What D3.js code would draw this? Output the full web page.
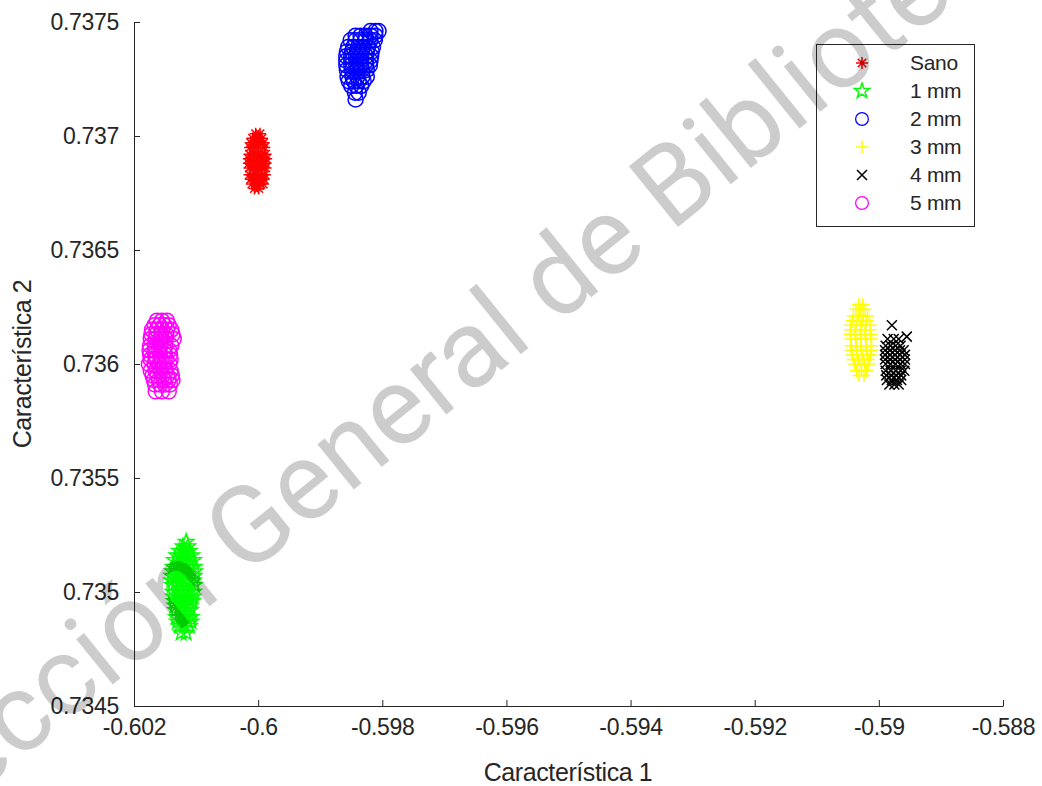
<!DOCTYPE html>
<html><head><meta charset="utf-8">
<script src="https://cdn.jsdelivr.net/npm/d3@7/dist/d3.min.js"></script>
<style>body{margin:0;background:#fff}</style>
</head><body><svg id="c" width="1042" height="786"></svg>
<script>
// ---------- data ----------
const seriesNames = ["Sano", "1 mm", "2 mm", "3 mm", "4 mm", "5 mm"];

const sano = [
[-0.60004,0.73701],[-0.59997,0.73701],
[-0.60009,0.73699],[-0.60002,0.73699],[-0.59994,0.73699],
[-0.60012,0.73697],[-0.60005,0.73697],[-0.59998,0.73697],[-0.59991,0.73697],
[-0.60013,0.73695],[-0.60006,0.73695],[-0.59999,0.73695],[-0.59990,0.73695],
[-0.60014,0.73692],[-0.60007,0.73692],[-0.60000,0.73692],[-0.59993,0.73692],[-0.59988,0.73692],
[-0.60015,0.73690],[-0.60008,0.73690],[-0.60001,0.73690],[-0.59994,0.73690],[-0.59987,0.73690],
[-0.60015,0.73688],[-0.60008,0.73688],[-0.60001,0.73688],[-0.59994,0.73688],[-0.59988,0.73688],
[-0.60014,0.73686],[-0.60007,0.73686],[-0.60000,0.73686],[-0.59993,0.73686],[-0.59988,0.73686],
[-0.60014,0.73683],[-0.60007,0.73683],[-0.60000,0.73683],[-0.59993,0.73683],[-0.59989,0.73683],
[-0.60012,0.73681],[-0.60005,0.73681],[-0.59998,0.73681],[-0.59991,0.73681],
[-0.60010,0.73679],[-0.60003,0.73679],[-0.59996,0.73679],[-0.59992,0.73679],
[-0.60006,0.73677],[-0.59999,0.73677]];

const mm1 = [
[-0.60116,0.73522],
[-0.60121,0.73520],[-0.60113,0.73520],
[-0.60127,0.73518],[-0.60119,0.73518],[-0.60111,0.73518],
[-0.60131,0.73516],[-0.60123,0.73516],[-0.60115,0.73516],[-0.60107,0.73516],
[-0.60135,0.73514],[-0.60127,0.73514],[-0.60119,0.73514],[-0.60111,0.73514],[-0.60104,0.73514],
[-0.60137,0.73511],[-0.60129,0.73511],[-0.60121,0.73511],[-0.60113,0.73511],[-0.60103,0.73511],
[-0.60138,0.73509],[-0.60130,0.73509],[-0.60122,0.73509],[-0.60114,0.73509],[-0.60102,0.73509],
[-0.60139,0.73507],[-0.60131,0.73507],[-0.60123,0.73507],[-0.60115,0.73507],[-0.60103,0.73507],
[-0.60139,0.73505],[-0.60131,0.73505],[-0.60123,0.73505],[-0.60115,0.73505],[-0.60104,0.73505],
[-0.60138,0.73503],[-0.60130,0.73503],[-0.60122,0.73503],[-0.60114,0.73503],[-0.60103,0.73503],
[-0.60137,0.73500],[-0.60129,0.73500],[-0.60121,0.73500],[-0.60113,0.73500],[-0.60104,0.73500],
[-0.60136,0.73498],[-0.60128,0.73498],[-0.60120,0.73498],[-0.60112,0.73498],[-0.60105,0.73498],
[-0.60135,0.73496],[-0.60127,0.73496],[-0.60119,0.73496],[-0.60111,0.73496],[-0.60106,0.73496],
[-0.60134,0.73494],[-0.60126,0.73494],[-0.60118,0.73494],[-0.60110,0.73494],
[-0.60133,0.73492],[-0.60125,0.73492],[-0.60117,0.73492],[-0.60109,0.73492],
[-0.60132,0.73489],[-0.60124,0.73489],[-0.60116,0.73489],[-0.60108,0.73489],
[-0.60130,0.73487],[-0.60122,0.73487],[-0.60114,0.73487],[-0.60108,0.73487],
[-0.60127,0.73485],[-0.60119,0.73485],[-0.60111,0.73485],
[-0.60124,0.73482],[-0.60116,0.73482]];

const mm2 = [
[-0.59819,0.73746],[-0.59811,0.73746],[-0.59806,0.73746],
[-0.59843,0.73744],[-0.59835,0.73744],[-0.59827,0.73744],[-0.59819,0.73744],[-0.59811,0.73744],
[-0.59851,0.73742],[-0.59843,0.73742],[-0.59835,0.73742],[-0.59827,0.73742],[-0.59819,0.73742],[-0.59812,0.73742],
[-0.59855,0.73739],[-0.59847,0.73739],[-0.59839,0.73739],[-0.59831,0.73739],[-0.59823,0.73739],[-0.59815,0.73739],
[-0.59857,0.73737],[-0.59849,0.73737],[-0.59841,0.73737],[-0.59833,0.73737],[-0.59825,0.73737],[-0.59817,0.73737],
[-0.59858,0.73735],[-0.59850,0.73735],[-0.59842,0.73735],[-0.59834,0.73735],[-0.59826,0.73735],[-0.59818,0.73735],
[-0.59858,0.73733],[-0.59850,0.73733],[-0.59842,0.73733],[-0.59834,0.73733],[-0.59826,0.73733],[-0.59819,0.73733],
[-0.59858,0.73731],[-0.59850,0.73731],[-0.59842,0.73731],[-0.59834,0.73731],[-0.59826,0.73731],[-0.59820,0.73731],
[-0.59857,0.73729],[-0.59849,0.73729],[-0.59841,0.73729],[-0.59833,0.73729],[-0.59825,0.73729],
[-0.59856,0.73726],[-0.59848,0.73726],[-0.59840,0.73726],[-0.59832,0.73726],[-0.59825,0.73726],
[-0.59854,0.73724],[-0.59846,0.73724],[-0.59838,0.73724],[-0.59830,0.73724],
[-0.59850,0.73722],[-0.59842,0.73722],[-0.59834,0.73722],
[-0.59844,0.73719],[-0.59838,0.73719],
[-0.59843,0.73716]];

const mm3 = [
[-0.59033,0.73626],[-0.59026,0.73626],
[-0.59037,0.73624],[-0.59029,0.73624],[-0.59022,0.73624],
[-0.59041,0.73621],[-0.59033,0.73621],[-0.59025,0.73621],[-0.59018,0.73621],
[-0.59043,0.73619],[-0.59035,0.73619],[-0.59027,0.73619],[-0.59019,0.73619],
[-0.59045,0.73617],[-0.59037,0.73617],[-0.59029,0.73617],[-0.59021,0.73617],[-0.59014,0.73617],
[-0.59046,0.73615],[-0.59038,0.73615],[-0.59030,0.73615],[-0.59022,0.73615],[-0.59014,0.73615],
[-0.59046,0.73613],[-0.59038,0.73613],[-0.59030,0.73613],[-0.59022,0.73613],[-0.59013,0.73613],
[-0.59045,0.73611],[-0.59037,0.73611],[-0.59029,0.73611],[-0.59021,0.73611],[-0.59012,0.73611],
[-0.59045,0.73608],[-0.59037,0.73608],[-0.59029,0.73608],[-0.59021,0.73608],[-0.59012,0.73608],
[-0.59044,0.73606],[-0.59036,0.73606],[-0.59028,0.73606],[-0.59020,0.73606],[-0.59012,0.73606],
[-0.59043,0.73604],[-0.59035,0.73604],[-0.59027,0.73604],[-0.59019,0.73604],[-0.59013,0.73604],
[-0.59041,0.73602],[-0.59033,0.73602],[-0.59025,0.73602],[-0.59017,0.73602],
[-0.59039,0.73600],[-0.59031,0.73600],[-0.59023,0.73600],[-0.59016,0.73600],
[-0.59036,0.73597],[-0.59028,0.73597],[-0.59020,0.73597],
[-0.59032,0.73595],[-0.59024,0.73595]];

const mm4 = [
[-0.58979,0.73617],[-0.58955,0.73612],
[-0.58986,0.73611],[-0.58976,0.73611],[-0.58968,0.73611],
[-0.58989,0.73608],[-0.58981,0.73608],[-0.58973,0.73608],[-0.58965,0.73608],
[-0.58990,0.73606],[-0.58982,0.73606],[-0.58974,0.73606],[-0.58966,0.73606],[-0.58960,0.73606],
[-0.58990,0.73604],[-0.58982,0.73604],[-0.58974,0.73604],[-0.58966,0.73604],[-0.58958,0.73604],
[-0.58990,0.73602],[-0.58982,0.73602],[-0.58974,0.73602],[-0.58966,0.73602],[-0.58958,0.73602],
[-0.58989,0.73600],[-0.58981,0.73600],[-0.58973,0.73600],[-0.58965,0.73600],[-0.58958,0.73600],
[-0.58989,0.73597],[-0.58981,0.73597],[-0.58973,0.73597],[-0.58965,0.73597],[-0.58959,0.73597],
[-0.58988,0.73595],[-0.58980,0.73595],[-0.58972,0.73595],[-0.58964,0.73595],
[-0.58987,0.73593],[-0.58979,0.73593],[-0.58971,0.73593],[-0.58964,0.73593],
[-0.58983,0.73591],[-0.58975,0.73591],[-0.58968,0.73591]];

const mm5 = [
[-0.60163,0.73619],[-0.60155,0.73619],[-0.60147,0.73619],
[-0.60167,0.73617],[-0.60159,0.73617],[-0.60151,0.73617],[-0.60144,0.73617],
[-0.60171,0.73615],[-0.60163,0.73615],[-0.60155,0.73615],[-0.60147,0.73615],[-0.60140,0.73615],
[-0.60172,0.73613],[-0.60164,0.73613],[-0.60156,0.73613],[-0.60148,0.73613],[-0.60138,0.73613],
[-0.60173,0.73611],[-0.60165,0.73611],[-0.60157,0.73611],[-0.60149,0.73611],[-0.60136,0.73611],
[-0.60174,0.73608],[-0.60166,0.73608],[-0.60158,0.73608],[-0.60150,0.73608],[-0.60140,0.73608],
[-0.60175,0.73606],[-0.60167,0.73606],[-0.60159,0.73606],[-0.60151,0.73606],[-0.60143,0.73606],
[-0.60174,0.73604],[-0.60166,0.73604],[-0.60158,0.73604],[-0.60150,0.73604],[-0.60142,0.73604],
[-0.60173,0.73602],[-0.60165,0.73602],[-0.60157,0.73602],[-0.60149,0.73602],[-0.60141,0.73602],
[-0.60176,0.73600],[-0.60167,0.73600],[-0.60159,0.73600],[-0.60151,0.73600],[-0.60143,0.73600],
[-0.60173,0.73597],[-0.60165,0.73597],[-0.60157,0.73597],[-0.60149,0.73597],[-0.60141,0.73597],
[-0.60170,0.73595],[-0.60162,0.73595],[-0.60154,0.73595],[-0.60146,0.73595],[-0.60139,0.73595],
[-0.60168,0.73593],[-0.60160,0.73593],[-0.60152,0.73593],[-0.60144,0.73593],[-0.60138,0.73593],
[-0.60166,0.73591],[-0.60158,0.73591],[-0.60150,0.73591],[-0.60142,0.73591],
[-0.60165,0.73588],[-0.60155,0.73588],[-0.60144,0.73588]];

const xTicks = [-0.602, -0.6, -0.598, -0.596, -0.594, -0.592, -0.59, -0.588];
const xTickLabels = ["-0.602", "-0.6", "-0.598", "-0.596", "-0.594", "-0.592", "-0.59", "-0.588"];
const yTicks = [0.7345, 0.735, 0.7355, 0.736, 0.7365, 0.737, 0.7375];
const yTickLabels = ["0.7345", "0.735", "0.7355", "0.736", "0.7365", "0.737", "0.7375"];
const xLabel = "Característica 1";
const yLabel = "Característica 2";
const watermark = "Dirección General de Bibliotecas";

// ---------- styles ----------
const seriesData = [sano, mm1, mm2, mm3, mm4, mm5];
const markerTypes = ["asterisk", "star", "circle", "plus", "x", "circle"];
const colors = ["#ff0000", "#00ff00", "#0000ff", "#ffff00", "#000000", "#ff00ff"];
const textColor = "#262626";
const font = "'Liberation Sans', Arial, sans-serif";

function starPath(R) {
  const r = R * 0.40;
  let p = [];
  for (let i = 0; i < 10; i++) {
    const a = -Math.PI / 2 + i * Math.PI / 5;
    const rr = i % 2 === 0 ? R : r;
    p.push((rr * Math.cos(a)).toFixed(2) + "," + (rr * Math.sin(a)).toFixed(2));
  }
  return "M" + p.join("L") + "Z";
}
function markerPath(type) {
  switch (type) {
    case "asterisk": return "M-6,0H6M0,-6V6M-4.3,-4.3L4.3,4.3M-4.3,4.3L4.3,-4.3";
    case "plus": return "M-6.5,0H6.5M0,-6.5V6.5";
    case "x": return "M-5,-5L5,5M-5,5L5,-5";
    case "circle": return "M7.5,0A7.5,7.5 0 1 1 -7.5,0A7.5,7.5 0 1 1 7.5,0Z";
    case "star": return starPath(8);
  }
}

// ---------- chart ----------
const svg = d3.select("#c");
const x = d3.scaleLinear().domain([-0.602, -0.588]).range([134, 1003]);
const y = d3.scaleLinear().domain([0.7345, 0.7375]).range([706, 22]);

seriesData.forEach((data, i) => {
  svg.append("g")
    .selectAll("path")
    .data(data)
    .join("path")
    .attr("d", markerPath(markerTypes[i]))
    .attr("transform", d => `translate(${x(d[0])},${y(d[1])})`)
    .attr("fill", "none")
    .attr("stroke", colors[i])
    .attr("stroke-width", 1.5);
});

const xAxis = d3.axisBottom(x).tickValues(xTicks)
  .tickFormat((d, i) => xTickLabels[i]).tickSizeInner(-6).tickSizeOuter(0).tickPadding(13);
const yAxis = d3.axisLeft(y).tickValues(yTicks)
  .tickFormat((d, i) => yTickLabels[i]).tickSizeInner(-6).tickSizeOuter(0).tickPadding(15);

const gx = svg.append("g").attr("transform", "translate(0,706)").call(xAxis);
const gy = svg.append("g").attr("transform", "translate(134,0)").call(yAxis);
[gx, gy].forEach(g => {
  g.select(".domain").attr("stroke", textColor).attr("stroke-width", 1);
  g.selectAll(".tick line").attr("stroke", textColor).attr("stroke-width", 1);
  g.selectAll(".tick text").attr("fill", textColor)
    .style("font-family", font).style("font-size", "23px").style("letter-spacing", "-0.3px");
});

svg.append("text").attr("x", 568).attr("y", 781)
  .attr("text-anchor", "middle").attr("fill", textColor)
  .style("font-family", font).style("font-size", "25px").style("letter-spacing", "-0.4px").text(xLabel);
svg.append("text").attr("transform", "translate(31,364) rotate(-90)")
  .attr("text-anchor", "middle").attr("fill", textColor)
  .style("font-family", font).style("font-size", "25px").style("letter-spacing", "-0.4px").text(yLabel);

// legend
const lg = svg.append("g");
lg.append("rect").attr("x", 816.5).attr("y", 44.5).attr("width", 158).attr("height", 182)
  .attr("fill", "#fff").attr("stroke", textColor).attr("stroke-width", 1);
const rowY = d3.scaleLinear().domain([0, 5]).range([63, 203]);
seriesNames.forEach((name, i) => {
  lg.append("path").attr("d", markerPath(markerTypes[i]))
    .attr("transform", `translate(862,${rowY(i)})${markerTypes[i]==="circle" ? " scale(0.85)" : ""}`)
    .attr("fill", "none").attr("stroke", colors[i]).attr("stroke-width", 1.5);
  lg.append("text").attr("x", 910).attr("y", rowY(i)).attr("dy", "0.35em")
    .attr("fill", textColor).style("font-family", font).style("font-size", "21px")
    .style("letter-spacing", "-0.3px").text(name);
});

// watermark
svg.append("text")
  .attr("transform", "translate(455,358) rotate(-39)")
  .attr("text-anchor", "middle").attr("dy", "0.35em")
  .attr("fill", "#000").attr("fill-opacity", 0.2)
  .style("font-family", "Roboto, 'Open Sans', 'Liberation Sans', sans-serif")
  .style("font-weight", 400).style("font-size", "110px")
  .text(watermark);
</script></body></html>
